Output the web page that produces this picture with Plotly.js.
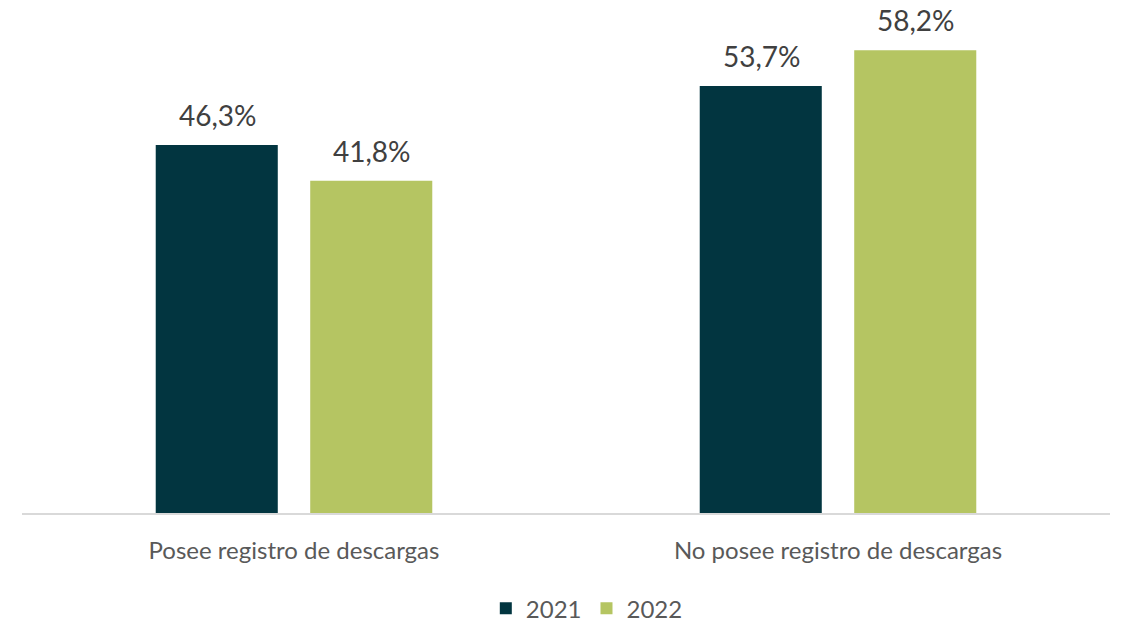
<!DOCTYPE html>
<html><head><meta charset="utf-8">
<script src="https://cdn.plot.ly/plotly-3.0.1.min.js"></script>
<style>html,body{margin:0;padding:0;background:#fff}#chart{width:1122px;height:623px}</style>
</head><body><div id="chart"></div>
<script>
const categories = ["Posee registro de descargas", "No posee registro de descargas"];
const seriesNames = ["2021", "2022"];
const values2021 = [46.3, 53.7];
const values2022 = [41.8, 58.2];
const colors = ["#023540", "#b5c562"];

const font = "Lato, 'Open Sans', sans-serif";
const allSeries = [values2021, values2022];
const traces = allSeries.map((vals, i) => ({
  type: "bar",
  name: seriesNames[i],
  x: categories,
  y: vals,
  marker: {color: colors[i]},
  offsetgroup: String(i),
  hoverinfo: "skip"
}));

const annotations = [];
allSeries.forEach((vals, i) => {
  vals.forEach((v, j) => {
    annotations.push({
      x: j, y: v, xref: "x", yref: "y",
      xshift: (i === 0 ? -76 : 78),
      yshift: 30,
      text: v.toFixed(1).replace(".", ",") + "%",
      showarrow: false,
      font: {family: font, size: 28, color: "#404040"},
      yanchor: "middle"
    });
  });
});

const layout = {
  width: 1122, height: 623,
  margin: {l: 22, r: 12, t: 36, b: 110},
  barmode: "group",
  bargap: 0.432,
  bargroupgap: 0.21,
  paper_bgcolor: "#fff",
  plot_bgcolor: "#fff",
  font: {family: font, color: "#595959"},
  xaxis: {
    automargin: false,
    showline: true, linecolor: "#d9d9d9", linewidth: 1.5,
    ticks: "outside", ticklen: 16, tickcolor: "rgba(0,0,0,0)",
    tickfont: {family: font, size: 24, color: "#595959"},
    showgrid: false
  },
  yaxis: {range: [0, 60], visible: false, showgrid: false, zeroline: false, automargin: false},
  annotations: annotations,
  showlegend: true,
  legend: {
    orientation: "h", xref: "container", yref: "container",
    x: 0.523, xanchor: "center", y: 0.023, yanchor: "middle",
    font: {family: font, size: 24, color: "#595959"},
    itemwidth: 30, tracegroupgap: 0
  }
};
Plotly.newPlot("chart", traces, layout, {staticPlot: true});
</script></body></html>
